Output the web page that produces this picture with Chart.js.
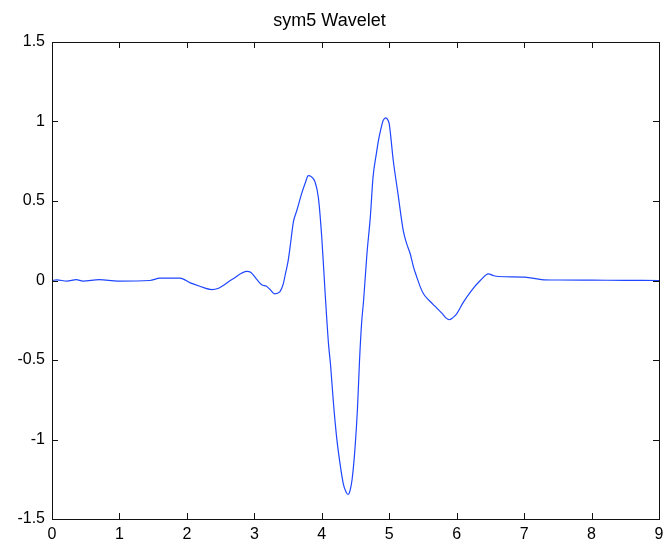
<!DOCTYPE html>
<html>
<head>
<meta charset="utf-8">
<title>sym5 Wavelet</title>
<script src="https://cdn.jsdelivr.net/npm/chart.js@4.4.0/dist/chart.umd.min.js"></script>
<style>
  html, body { margin: 0; padding: 0; background: #fff; }
</style>
</head>
<body>
<canvas id="grafico" width="664" height="545"></canvas>
<script>
// pontos da função psi (sym5), posição x e valor
var tempo = [0, 0.07, 0.22, 0.36, 0.46, 0.7, 0.98, 1.45, 1.6, 1.9, 2.05, 2.19, 2.37, 2.46,
  2.68, 2.89, 2.95, 3.03, 3.11, 3.18, 3.24, 3.30, 3.38, 3.43, 3.46, 3.50, 3.53, 3.58,
  3.63, 3.70, 3.76, 3.80, 3.84, 3.90, 3.95, 4.00, 4.05, 4.10, 4.13, 4.17, 4.22, 4.27,
  4.32, 4.36, 4.39, 4.42, 4.45, 4.49, 4.53, 4.56, 4.59, 4.62, 4.67, 4.72, 4.76, 4.81,
  4.84, 4.88, 4.91, 4.95, 4.98, 5.00, 5.06, 5.13, 5.21, 5.26, 5.31, 5.36, 5.41, 5.46,
  5.51, 5.58, 5.65, 5.72, 5.78, 5.84, 5.89, 5.94, 6.00, 6.10, 6.22, 6.35, 6.47, 6.55,
  6.62, 7.01, 7.26, 7.5, 8, 8.5, 9];
var psi = [0, 0.004, -0.004, 0.006, -0.004, 0.006, -0.004, 0, 0.015, 0.015, -0.015, -0.036, -0.057, -0.05,
  0.01, 0.057, 0.05, 0.01, -0.027, -0.036, -0.06, -0.084, -0.07, -0.02, 0.04, 0.12, 0.21, 0.37,
  0.44, 0.545, 0.62, 0.66, 0.655, 0.62, 0.52, 0.27, -0.08, -0.40, -0.53, -0.755, -0.985, -1.15,
  -1.28, -1.33, -1.346, -1.32, -1.25, -1.07, -0.80, -0.50, -0.27, -0.126, 0.17, 0.40, 0.65, 0.80,
  0.88, 0.96, 1.006, 1.023, 1.01, 0.985, 0.755, 0.545, 0.31, 0.23, 0.17, 0.084, 0.02, -0.04,
  -0.085, -0.12, -0.15, -0.18, -0.205, -0.235, -0.247, -0.235, -0.21, -0.136, -0.063, 0, 0.042, 0.03,
  0.025, 0.021, 0.006, 0.003, 0.002, 0.001, 0];

var ticksX = [0, 1, 2, 3, 4, 5, 6, 7, 8, 9];
var ticksY = [-1.5, -1, -0.5, 0, 0.5, 1, 1.5];

Chart.defaults.font.family = "'Liberation Sans', Arial, sans-serif";
Chart.defaults.font.size = 16;
Chart.defaults.color = '#000';

// moldura e marcas dos eixos viradas para dentro (estilo matlab)
var moldura = {
  id: 'moldura',
  afterDatasetsDraw: function(chart) {
    var ctx = chart.ctx;
    var a = chart.chartArea;
    var sx = chart.scales.x, sy = chart.scales.y;
    var tam = 6;
    ctx.save();
    ctx.strokeStyle = '#111';
    ctx.lineWidth = 1;
    ctx.beginPath();
    ticksX.forEach(function(v) {
      var px = Math.round(sx.getPixelForValue(v)) + 0.5;
      ctx.moveTo(px, a.bottom); ctx.lineTo(px, a.bottom - tam);
      ctx.moveTo(px, a.top); ctx.lineTo(px, a.top + tam);
    });
    ticksY.forEach(function(v) {
      var py = Math.round(sy.getPixelForValue(v)) + 0.5;
      ctx.moveTo(a.left, py); ctx.lineTo(a.left + tam, py);
      ctx.moveTo(a.right, py); ctx.lineTo(a.right - tam, py);
    });
    ctx.stroke();
    ctx.strokeRect(Math.round(a.left) + 0.5, Math.round(a.top) + 0.5,
      Math.round(a.right - a.left), Math.round(a.bottom - a.top));
    ctx.restore();
  }
};

var pontos = tempo.map(function(t, i) { return { x: t, y: psi[i] }; });

new Chart(document.getElementById('grafico').getContext('2d'), {
  type: 'line',
  data: {
    datasets: [{
      data: pontos,
      borderColor: 'rgb(30, 70, 255)',
      borderWidth: 1.2,
      pointRadius: 0,
      cubicInterpolationMode: 'monotone',
      fill: false
    }]
  },
  options: {
    responsive: false,
    animation: false,
    layout: { padding: { left: 0, right: 5, top: 0, bottom: 0 } },
    plugins: {
      legend: { display: false },
      tooltip: { enabled: false },
      title: {
        display: true,
        text: 'sym5 Wavelet',
        color: '#000',
        font: { size: 18, weight: 'normal' },
        padding: { top: 10, bottom: 10.4 }
      }
    },
    scales: {
      x: {
        type: 'linear',
        min: 0,
        max: 9,
        grid: { display: false, drawTicks: false },
        border: { display: false },
        afterBuildTicks: function(s) { s.ticks = ticksX.map(function(v) { return { value: v }; }); },
        afterFit: function(s) { s.height = 26; s.paddingLeft = 0; s.paddingRight = 0; },
        ticks: { padding: 6, maxRotation: 0, autoSkip: false }
      },
      y: {
        type: 'linear',
        min: -1.5,
        max: 1.5,
        grid: { display: false, drawTicks: false },
        border: { display: false },
        afterBuildTicks: function(s) { s.ticks = ticksY.map(function(v) { return { value: v }; }); },
        afterFit: function(s) { s.width = 52; s.paddingTop = 0; s.paddingBottom = 0; },
        ticks: { padding: 7, autoSkip: false, callback: function(v) { return String(v); } }
      }
    }
  },
  plugins: [moldura]
});
</script>
</body>
</html>
